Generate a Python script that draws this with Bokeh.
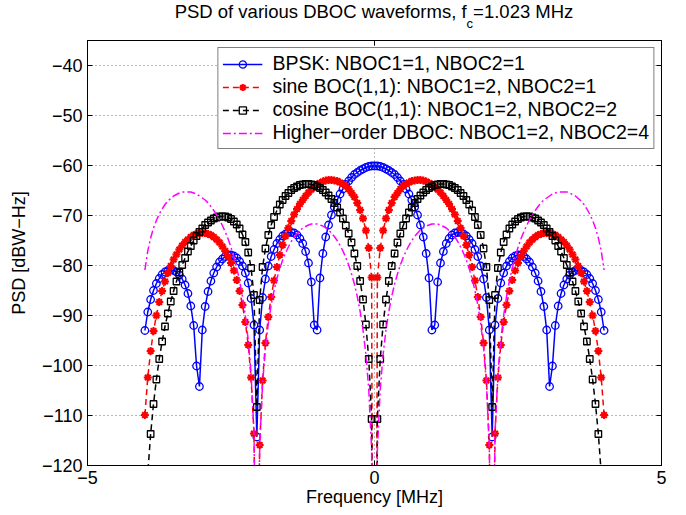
from bokeh.plotting import figure
from bokeh.layouts import column
from bokeh.models import (Range1d, LinearAxis, FixedTicker, Legend, LegendItem,
                          Div, CustomJSTickFormatter)
from bokeh.embed import file_html
from bokeh.resources import INLINE

FONT = "Liberation Sans"

# ---------------- data ----------------
freq_mhz = [
    -4.0, -3.95, -3.9, -3.85, -3.8, -3.75, -3.7, -3.65, -3.6, -3.55,
    -3.5, -3.45, -3.4, -3.35, -3.3, -3.25, -3.2, -3.15, -3.1, -3.05,
    -3.0, -2.95, -2.9, -2.85, -2.8, -2.75, -2.7, -2.65, -2.6, -2.55,
    -2.5, -2.45, -2.4, -2.35, -2.3, -2.25, -2.2, -2.15, -2.1, -2.05,
    -2.0, -1.95, -1.9, -1.85, -1.8, -1.75, -1.7, -1.65, -1.6, -1.55,
    -1.5, -1.45, -1.4, -1.35, -1.3, -1.25, -1.2, -1.15, -1.1, -1.05,
    -1.0, -0.95, -0.9, -0.85, -0.8, -0.75, -0.7, -0.65, -0.6, -0.55,
    -0.5, -0.45, -0.4, -0.35, -0.3, -0.25, -0.2, -0.15, -0.1, -0.05,
    0.0,
    0.05, 0.1, 0.15, 0.2, 0.25, 0.3, 0.35, 0.4, 0.45, 0.5,
    0.55, 0.6, 0.65, 0.7, 0.75, 0.8, 0.85, 0.9, 0.95, 1.0,
    1.05, 1.1, 1.15, 1.2, 1.25, 1.3, 1.35, 1.4, 1.45, 1.5,
    1.55, 1.6, 1.65, 1.7, 1.75, 1.8, 1.85, 1.9, 1.95, 2.0,
    2.05, 2.1, 2.15, 2.2, 2.25, 2.3, 2.35, 2.4, 2.45, 2.5,
    2.55, 2.6, 2.65, 2.7, 2.75, 2.8, 2.85, 2.9, 2.95, 3.0,
    3.05, 3.1, 3.15, 3.2, 3.25, 3.3, 3.35, 3.4, 3.45, 3.5,
    3.55, 3.6, 3.65, 3.7, 3.75, 3.8, 3.85, 3.9, 3.95, 4.0,
]

psd_bpsk = [
    -93.0, -89.3, -86.8, -85.0, -83.6, -82.6, -81.8, -81.3, -81.0, -80.9,
    -81.0, -81.3, -81.9, -82.7, -83.9, -85.6, -88.1, -92.0, -100.1, -104.2,
    -92.9, -88.2, -85.2, -83.1, -81.5, -80.3, -79.3, -78.7, -78.2, -78.0,
    -77.9, -78.1, -78.5, -79.2, -80.1, -81.5, -83.5, -86.6, -91.9, -114.3,
    -92.9, -86.4, -82.7, -80.1, -78.2, -76.8, -75.6, -74.8, -74.1, -73.7,
    -73.4, -73.4, -73.5, -73.9, -74.6, -75.6, -77.2, -79.5, -83.3, -91.9,
    -92.9, -82.5, -77.6, -74.3, -71.9, -69.9, -68.3, -66.9, -65.7, -64.7,
    -63.8, -63.1, -62.4, -61.8, -61.4, -61.0, -60.7, -60.4, -60.2, -60.1,
    -60.1,
    -60.1, -60.2, -60.4, -60.7, -61.0, -61.4, -61.8, -62.4, -63.1, -63.8,
    -64.7, -65.7, -66.9, -68.3, -69.9, -71.9, -74.3, -77.6, -82.5, -92.9,
    -91.9, -83.3, -79.5, -77.2, -75.6, -74.6, -73.9, -73.5, -73.4, -73.4,
    -73.7, -74.1, -74.8, -75.6, -76.8, -78.2, -80.1, -82.7, -86.4, -92.9,
    -114.3, -91.9, -86.6, -83.5, -81.5, -80.1, -79.2, -78.5, -78.1, -77.9,
    -78.0, -78.2, -78.7, -79.3, -80.3, -81.5, -83.1, -85.2, -88.2, -92.9,
    -104.2, -100.1, -92.0, -88.1, -85.6, -83.9, -82.7, -81.9, -81.3, -81.0,
    -80.9, -81.0, -81.3, -81.8, -82.6, -83.6, -85.0, -86.8, -89.3, -93.0,
]

psd_sine_boc = [
    -109.9, -102.4, -97.1, -93.1, -90.0, -87.3, -85.1, -83.2, -81.5, -80.1,
    -78.8, -77.8, -76.8, -76.0, -75.3, -74.8, -74.3, -73.9, -73.7, -73.5,
    -73.5, -73.5, -73.7, -73.9, -74.3, -74.8, -75.4, -76.2, -77.1, -78.2,
    -79.5, -81.0, -82.9, -85.1, -87.9, -91.3, -95.9, -102.4, -113.6, -158.5,
    -115.9, -103.0, -95.5, -90.3, -86.3, -83.0, -80.3, -77.9, -75.9, -74.1,
    -72.5, -71.1, -69.8, -68.7, -67.7, -66.9, -66.1, -65.4, -64.8, -64.3,
    -63.8, -63.5, -63.2, -63.0, -62.9, -62.9, -63.0, -63.1, -63.4, -63.7,
    -64.1, -64.7, -65.5, -66.3, -67.5, -68.9, -70.6, -73.0, -76.5, -82.4,
    -300.0,
    -82.4, -76.5, -73.0, -70.6, -68.9, -67.5, -66.3, -65.5, -64.7, -64.1,
    -63.7, -63.4, -63.1, -63.0, -62.9, -62.9, -63.0, -63.2, -63.5, -63.8,
    -64.3, -64.8, -65.4, -66.1, -66.9, -67.7, -68.7, -69.8, -71.1, -72.5,
    -74.1, -75.9, -77.9, -80.3, -83.0, -86.3, -90.3, -95.5, -103.0, -115.9,
    -158.5, -113.6, -102.4, -95.9, -91.3, -87.9, -85.1, -82.9, -81.0, -79.5,
    -78.2, -77.1, -76.2, -75.4, -74.8, -74.3, -73.9, -73.7, -73.5, -73.5,
    -73.5, -73.7, -73.9, -74.3, -74.8, -75.3, -76.0, -76.8, -77.8, -78.8,
    -80.1, -81.5, -83.2, -85.1, -87.3, -90.0, -93.1, -97.1, -102.4, -109.9,
]

psd_cosine_boc = [
    -132.9, -121.6, -113.7, -107.7, -102.8, -98.7, -95.2, -92.2, -89.6, -87.2,
    -85.1, -83.2, -81.4, -79.9, -78.5, -77.2, -76.1, -75.0, -74.1, -73.3,
    -72.6, -71.9, -71.4, -71.0, -70.6, -70.4, -70.2, -70.2, -70.2, -70.4,
    -70.7, -71.2, -71.8, -72.6, -73.8, -75.3, -77.4, -80.5, -85.9, -108.3,
    -86.9, -80.3, -76.6, -73.9, -71.9, -70.3, -69.0, -67.8, -66.9, -66.1,
    -65.5, -64.9, -64.5, -64.2, -63.9, -63.8, -63.7, -63.7, -63.8, -63.9,
    -64.2, -64.5, -64.9, -65.4, -66.0, -66.7, -67.5, -68.4, -69.4, -70.6,
    -72.0, -73.6, -75.4, -77.6, -80.1, -83.1, -86.8, -91.8, -98.7, -110.7,
    -300.0,
    -110.7, -98.7, -91.8, -86.8, -83.1, -80.1, -77.6, -75.4, -73.6, -72.0,
    -70.6, -69.4, -68.4, -67.5, -66.7, -66.0, -65.4, -64.9, -64.5, -64.2,
    -63.9, -63.8, -63.7, -63.7, -63.8, -63.9, -64.2, -64.5, -64.9, -65.5,
    -66.1, -66.9, -67.8, -69.0, -70.3, -71.9, -73.9, -76.6, -80.3, -86.9,
    -108.3, -85.9, -80.5, -77.4, -75.3, -73.8, -72.6, -71.8, -71.2, -70.7,
    -70.4, -70.2, -70.2, -70.2, -70.4, -70.6, -71.0, -71.4, -71.9, -72.6,
    -73.3, -74.1, -75.0, -76.1, -77.2, -78.5, -79.9, -81.4, -83.2, -85.1,
    -87.2, -89.6, -92.2, -95.2, -98.7, -102.8, -107.7, -113.7, -121.6, -132.9,
]

psd_dboc = [
    -80.9, -77.1, -74.5, -72.5, -71.0, -69.7, -68.7, -67.8, -67.1, -66.6,
    -66.1, -65.8, -65.5, -65.3, -65.3, -65.3, -65.3, -65.5, -65.7, -66.1,
    -66.5, -66.9, -67.5, -68.2, -69.0, -69.9, -70.9, -72.0, -73.3, -74.7,
    -76.4, -78.3, -80.5, -83.1, -86.2, -90.0, -94.9, -101.7, -113.2, -158.5,
    -116.2, -103.6, -96.5, -91.6, -87.9, -85.0, -82.6, -80.6, -78.9, -77.5,
    -76.3, -75.2, -74.3, -73.6, -73.0, -72.5, -72.2, -71.9, -71.7, -71.7,
    -71.7, -71.9, -72.1, -72.5, -72.9, -73.5, -74.2, -75.0, -76.0, -77.1,
    -78.4, -79.9, -81.7, -83.7, -86.2, -89.2, -92.9, -97.8, -104.8, -116.8,
    -300.0,
    -116.8, -104.8, -97.8, -92.9, -89.2, -86.2, -83.7, -81.7, -79.9, -78.4,
    -77.1, -76.0, -75.0, -74.2, -73.5, -72.9, -72.5, -72.1, -71.9, -71.7,
    -71.7, -71.7, -71.9, -72.2, -72.5, -73.0, -73.6, -74.3, -75.2, -76.3,
    -77.5, -78.9, -80.6, -82.6, -85.0, -87.9, -91.6, -96.5, -103.6, -116.2,
    -158.5, -113.2, -101.7, -94.9, -90.0, -86.2, -83.1, -80.5, -78.3, -76.4,
    -74.7, -73.3, -72.0, -70.9, -69.9, -69.0, -68.2, -67.5, -66.9, -66.5,
    -66.1, -65.7, -65.5, -65.3, -65.3, -65.3, -65.3, -65.5, -65.8, -66.1,
    -66.6, -67.1, -67.8, -68.7, -69.7, -71.0, -72.5, -74.5, -77.1, -80.9,
]

series_labels = [
    "BPSK: NBOC1=1, NBOC2=1",
    "sine BOC(1,1): NBOC1=2, NBOC2=1",
    "cosine BOC(1,1): NBOC1=2, NBOC2=2",
    "Higher\u2212order DBOC: NBOC1=2, NBOC2=4",
]
x_ticks = [-5, 0, 5]
y_ticks = [-120, -110, -100, -90, -80, -70, -60, -50, -40]
x_limits = (-5, 5)
y_limits = (-120, -35)

# ---------------- title (HTML, with subscript) ----------------
title = Div(
    text='PSD of various DBOC waveforms, f<span style="font-size:13px; position:relative; top:10px;">c</span>=1.023 MHz',
    width=574, height=40, margin=(0, 0, 0, 87),
    styles={"text-align": "center", "font-family": FONT, "font-size": "18.5px",
            "line-height": "24px", "color": "black", "white-space": "nowrap"},
)

# ---------------- figure ----------------
p = figure(width=686, height=475, output_backend="svg", toolbar_location=None,
           x_range=Range1d(*x_limits), y_range=Range1d(*y_limits),
           min_border_left=87, min_border_right=25, min_border_top=0,
           min_border_bottom=50)
p.background_fill_color = "white"
p.border_fill_color = "white"
p.outline_line_color = "black"
p.outline_line_width = 1

fmt = CustomJSTickFormatter(code="return tick < 0 ? '\\u2212' + Math.abs(tick) : String(tick);")
blank_fmt = CustomJSTickFormatter(code="return '';")


def style_axis(ax, ticks, labels=True):
    ax.ticker = FixedTicker(ticks=ticks)
    ax.major_tick_in = 5
    ax.major_tick_out = 0
    ax.minor_tick_line_color = None
    ax.axis_line_color = "black"
    ax.major_tick_line_color = "black"
    ax.major_label_text_font = FONT
    ax.major_label_text_color = "black"
    if labels:
        ax.formatter = fmt
        ax.major_label_text_font_size = "18px"
    else:
        ax.formatter = blank_fmt
        ax.major_label_text_font_size = "1px"
        ax.major_label_standoff = 0


style_axis(p.xaxis[0], x_ticks)
style_axis(p.yaxis[0], y_ticks)
p.xaxis[0].major_label_standoff = 5
p.yaxis[0].major_label_standoff = 5

p.xaxis[0].axis_label = "Frequency [MHz]"
p.yaxis[0].axis_label = "PSD [dBW\u2212Hz]"
for ax in (p.xaxis[0], p.yaxis[0]):
    ax.axis_label_text_font = FONT
    ax.axis_label_text_font_size = "18px"
    ax.axis_label_text_font_style = "normal"
    ax.axis_label_text_color = "black"
p.xaxis[0].axis_label_standoff = 0
p.yaxis[0].axis_label_standoff = 10

top_ax = LinearAxis()
style_axis(top_ax, x_ticks, labels=False)
p.add_layout(top_ax, "above")
right_ax = LinearAxis()
style_axis(right_ax, y_ticks, labels=False)
p.add_layout(right_ax, "right")

for g in (p.xgrid[0], p.ygrid[0]):
    g.grid_line_color = "black"
    g.grid_line_alpha = 0.55
    g.grid_line_dash = "1 3"
    g.grid_line_width = 1
p.xgrid[0].ticker = FixedTicker(ticks=x_ticks)
p.ygrid[0].ticker = FixedTicker(ticks=y_ticks)

# ---------------- series ----------------
l1 = p.line(freq_mhz, psd_bpsk, line_color="#0000ff", line_width=1.5)
m1 = p.scatter(freq_mhz, psd_bpsk, marker="circle", size=7.5, fill_color=None,
               line_color="#0000ff", line_width=1.3)

l2 = p.line(freq_mhz, psd_sine_boc, line_color="#ff0000", line_width=1.5,
            line_dash="6 4")
m2 = p.scatter(freq_mhz, psd_sine_boc, marker="asterisk", size=8,
               line_color="#ff0000", line_width=2)

l3 = p.line(freq_mhz, psd_cosine_boc, line_color="#000000", line_width=1.5,
            line_dash="6 4")
m3 = p.scatter(freq_mhz, psd_cosine_boc, marker="square", size=6.5,
               fill_color=None, line_color="#000000", line_width=1.3)

l4 = p.line(freq_mhz, psd_dboc, line_color="#ff00ff", line_width=1.5,
            line_dash="8 3 2 3")

legend = Legend(items=[
    LegendItem(label=series_labels[0], renderers=[l1, m1]),
    LegendItem(label=series_labels[1], renderers=[l2, m2]),
    LegendItem(label=series_labels[2], renderers=[l3, m3]),
    LegendItem(label=series_labels[3], renderers=[l4]),
], location="top_right")
legend.label_text_font = FONT
legend.label_text_font_size = "19.5px"
legend.label_text_line_height = 1.0
legend.label_text_color = "black"
legend.glyph_width = 40
legend.glyph_height = 18
legend.label_height = 18
legend.label_standoff = 10
legend.spacing = 0
legend.padding = 4
legend.margin = 7
legend.border_line_color = "black"
legend.border_line_width = 1.2
legend.background_fill_color = "white"
legend.background_fill_alpha = 1.0
p.add_layout(legend)

layout = column(title, p, spacing=0)

open("out.html", "w").write(file_html(layout, INLINE))
